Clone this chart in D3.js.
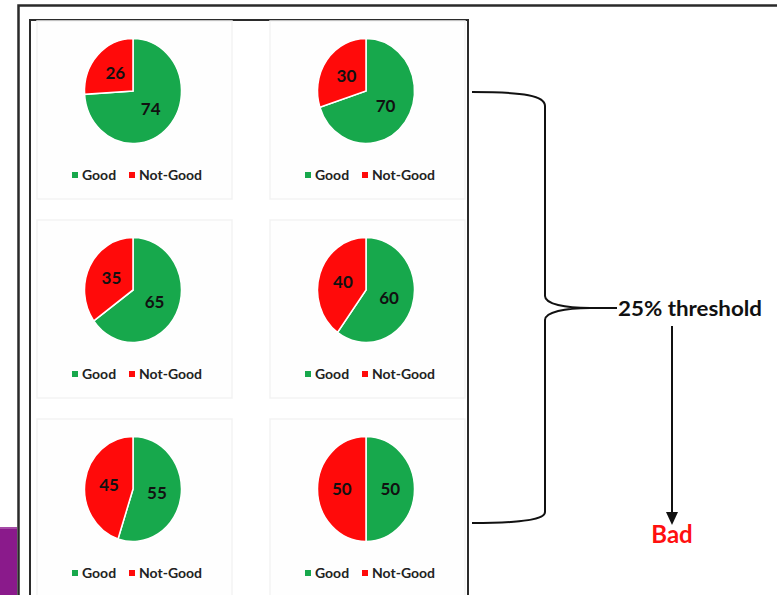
<!DOCTYPE html>
<html>
<head>
<meta charset="utf-8">
<script src="https://cdn.jsdelivr.net/npm/d3@7/dist/d3.min.js"></script>
<style>
  html, body { margin: 0; padding: 0; background: #fff; }
  svg { display: block; }
  text { font-family: Lato, "Open Sans", "DejaVu Sans", sans-serif; font-weight: 700; }
</style>
</head>
<body>
<svg id="chart" width="777" height="595"></svg>
<script>
// Share of Good vs Not-Good in each of the six panels (left-to-right, top-to-bottom)
const categories = ["Good", "Not-Good"];
const goodValues = [74, 70, 65, 60, 55, 50];
const notGoodValues = [26, 30, 35, 40, 45, 50];
const thresholdLabel = "25% threshold";
const outcomeLabel = "Bad";

const colors = { "Good": "#17a84c", "Not-Good": "#ff0a0a" };

const svg = d3.select("#chart");
const W = 777, H = 595;

// Slide-like frame
svg.append("rect").attr("width", W).attr("height", H).attr("fill", "#fff");
svg.append("rect").attr("x", 0).attr("y", 527).attr("width", 17).attr("height", 70).attr("fill", "#8a1a8b");
svg.append("rect").attr("x", 0).attr("y", 527).attr("width", 17).attr("height", 2).attr("fill", "#a54aa6");
svg.append("path").attr("d", "M18.5,600 L18.5,5.5 L780,5.5")
  .attr("fill", "none").attr("stroke", "#2a2a2a").attr("stroke-width", 2.5);

// Container box around the pies
svg.append("rect").attr("x", 30).attr("y", 20).attr("width", 438).attr("height", 590)
  .attr("fill", "#fff").attr("stroke", "#2b2b2b").attr("stroke-width", 2);

// Grid placement of panels
const colX = d3.scaleLinear().domain([0, 1]).range([133, 366]);
const rowY = d3.scaleLinear().domain([0, 2]).range([91, 489]);
const rx = 48.5, ry = 52.5;

const pie = d3.pie().sort(null).value(d => d.value);
const arc = d3.arc().innerRadius(0).outerRadius(rx);

const panels = goodValues.map((g, i) => ({
  col: i % 2,
  row: Math.floor(i / 2),
  slices: [
    { key: categories[0], value: g },
    { key: categories[1], value: notGoodValues[i] }
  ]
}));

panels.forEach(p => {
  const cx = colX(p.col), cy = rowY(p.row);
  const g = svg.append("g").attr("transform", `translate(${cx},${cy})`);

  // faint panel card
  g.append("rect").attr("x", -96).attr("y", -70).attr("width", 195).attr("height", 178)
    .attr("fill", "#fefefe").attr("stroke", "#f3f3f3").attr("stroke-width", 1.5);

  const arcs = pie(p.slices);
  const pg = g.append("g").attr("transform", `scale(1,${ry / rx})`);
  pg.selectAll("path").data(arcs).join("path")
    .attr("d", arc)
    .attr("fill", d => colors[d.data.key])
    .attr("stroke", "#fff").attr("stroke-width", 1.5);

  g.selectAll("text.val").data(arcs).join("text")
    .attr("class", "val")
    .attr("x", d => arc.centroid(d)[0])
    .attr("y", d => arc.centroid(d)[1] * ry / rx)
    .attr("dy", "0.35em")
    .attr("text-anchor", "middle")
    .attr("font-size", 17).attr("font-weight", 900).attr("fill", "#111")
    .text(d => d.data.value);

  // legend
  const lg = g.append("g").attr("transform", "translate(0,84)");
  const items = [{ key: categories[0], x: -61 }, { key: categories[1], x: -4 }];
  items.forEach(it => {
    lg.append("rect").attr("x", it.x).attr("y", -3).attr("width", 6).attr("height", 6)
      .attr("fill", colors[it.key]);
    lg.append("text").attr("x", it.x + 10).attr("y", 5)
      .attr("font-size", 14).attr("fill", "#222").text(it.key);
  });
});

// Brace gathering all six panels
svg.append("path")
  .attr("d", "M472,92 C525,92 545,96 545,106 L545,296 C545,304 565,308 590,308 L617,308 " +
             "M590,308 C565,308 545,312 545,320 L545,512 C545,519 525,523 472,523")
  .attr("fill", "none").attr("stroke", "#111").attr("stroke-width", 2);

svg.append("text").attr("x", 618).attr("y", 316)
  .attr("font-size", 21).attr("fill", "#111")
  .attr("textLength", 144).attr("lengthAdjust", "spacingAndGlyphs")
  .text(thresholdLabel);

// Arrow to outcome
svg.append("line").attr("x1", 672).attr("x2", 672).attr("y1", 326).attr("y2", 513)
  .attr("stroke", "#111").attr("stroke-width", 2);
svg.append("path").attr("d", "M666,512 L678,512 L672,525 Z").attr("fill", "#111");

svg.append("text").attr("x", 672).attr("y", 543).attr("text-anchor", "middle")
  .attr("font-size", 24).attr("fill", "#ff1010").text(outcomeLabel);
</script>
</body>
</html>
